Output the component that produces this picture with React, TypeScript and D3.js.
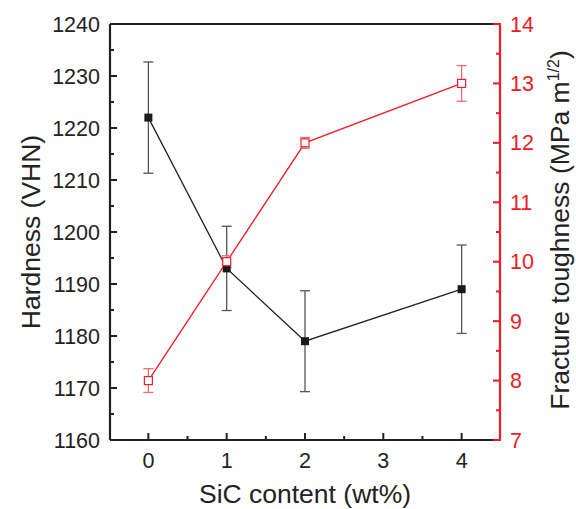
import React from "react";
import * as d3 from "d3";

const xCats = [0, 1, 2, 4];
const hardness = [1222, 1193, 1179, 1189];
const hardnessErr = [10.7, 8.1, 9.7, 8.5];
const toughness = [8.0, 10.0, 12.0, 13.0];
const toughnessErr = [0.2, 0.1, 0.09, 0.3];
const xTicks = [0, 1, 2, 3, 4];
const yLeftTicks = [1160, 1170, 1180, 1190, 1200, 1210, 1220, 1230, 1240];
const yRightTicks = [7, 8, 9, 10, 11, 12, 13, 14];

const W = 576, H = 509;
const L = 110, R = 500, T = 24, B = 440;
const FONT = "'Liberation Sans', Arial, sans-serif";
const RED = "#ee1c25";

export default function App() {
  const x = d3.scaleLinear().domain([-0.49, 4.49]).range([L, R]);
  const yL = d3.scaleLinear().domain([1160, 1240]).range([B, T]);
  const yR = d3.scaleLinear().domain([7, 14]).range([B, T]);
  const lineL = d3.line<number>().x((_, i) => x(xCats[i])).y(d => yL(d));
  const lineR = d3.line<number>().x((_, i) => x(xCats[i])).y(d => yR(d));
  const ms = 8;
  const capW = 5;
  const xMinor = d3.range(-0.5, 4.51, 0.5).filter(v => v > -0.49 && v < 4.49 && !Number.isInteger(v));
  const yLMinor = d3.range(1165, 1240, 10);
  const yRMinor = d3.range(7.5, 14, 1);
  const tickFs = 21.5;
  const titleFs = 26.5;

  return (
    <svg width={W} height={H} style={{ position: "absolute", left: 0, top: 0, background: "#fff" }} fontFamily={FONT}>
      {/* lines */}
      <path d={lineL(hardness) || ""} fill="none" stroke="#222" strokeWidth={1.3} />
      <path d={lineR(toughness) || ""} fill="none" stroke={RED} strokeWidth={1.3} />
      {/* hardness error bars */}
      {hardness.map((v, i) => {
        const cx = x(xCats[i]);
        const y1 = yL(v + hardnessErr[i]), y2 = yL(v - hardnessErr[i]);
        return (
          <g key={"he" + i} stroke="#555" strokeWidth={1.3}>
            <line x1={cx} x2={cx} y1={y1} y2={y2} />
            <line x1={cx - capW} x2={cx + capW} y1={y1} y2={y1} />
            <line x1={cx - capW} x2={cx + capW} y1={y2} y2={y2} />
          </g>
        );
      })}
      {/* toughness error bars */}
      {toughness.map((v, i) => {
        const cx = x(xCats[i]);
        const y1 = yR(v + toughnessErr[i]), y2 = yR(v - toughnessErr[i]);
        return (
          <g key={"te" + i} stroke="#f36b70" strokeWidth={1.3}>
            <line x1={cx} x2={cx} y1={y1} y2={y2} />
            <line x1={cx - capW} x2={cx + capW} y1={y1} y2={y1} />
            <line x1={cx - capW} x2={cx + capW} y1={y2} y2={y2} />
          </g>
        );
      })}
      {/* markers */}
      {hardness.map((v, i) => (
        <rect key={"hm" + i} x={x(xCats[i]) - ms / 2} y={yL(v) - ms / 2} width={ms} height={ms} fill="#1a1a1a" />
      ))}
      {toughness.map((v, i) => (
        <rect key={"tm" + i} x={x(xCats[i]) - ms / 2} y={yR(v) - ms / 2} width={ms} height={ms} fill="#fff" stroke={RED} strokeWidth={1.2} />
      ))}
      {/* frame */}
      <line x1={L} x2={R} y1={T} y2={T} stroke="#222" strokeWidth={2} />
      <line x1={L} x2={R} y1={B} y2={B} stroke="#222" strokeWidth={2.2} />
      <line x1={L} x2={L} y1={T} y2={B} stroke="#222" strokeWidth={2.2} />
      <line x1={R} x2={R} y1={T - 1} y2={B + 1} stroke={RED} strokeWidth={2.2} />
      {/* x ticks */}
      {xTicks.map(t => (
        <g key={"xt" + t}>
          <line x1={x(t)} x2={x(t)} y1={B} y2={B - 7} stroke="#222" strokeWidth={2} />
          <text x={x(t)} y={B + 28} fontSize={tickFs} textAnchor="middle" fill="#222">{t}</text>
        </g>
      ))}
      {xMinor.map(t => (
        <line key={"xm" + t} x1={x(t)} x2={x(t)} y1={B} y2={B - 4} stroke="#222" strokeWidth={2} />
      ))}
      {/* left ticks */}
      {yLeftTicks.map(t => (
        <g key={"yl" + t}>
          <line x1={L} x2={L + 7} y1={yL(t)} y2={yL(t)} stroke="#222" strokeWidth={2} />
          <text x={L - 10} y={yL(t) + 7.5} fontSize={tickFs} textAnchor="end" fill="#222">{t}</text>
        </g>
      ))}
      {yLMinor.map(t => (
        <line key={"ylm" + t} x1={L} x2={L + 4} y1={yL(t)} y2={yL(t)} stroke="#222" strokeWidth={2} />
      ))}
      {/* right ticks */}
      {yRightTicks.map(t => (
        <g key={"yr" + t}>
          <line x1={R} x2={R - 7} y1={yR(t)} y2={yR(t)} stroke={RED} strokeWidth={2} />
          <text x={R + 10} y={yR(t) + 7.5} fontSize={tickFs} textAnchor="start" fill={RED}>{t}</text>
        </g>
      ))}
      {yRMinor.map(t => (
        <line key={"yrm" + t} x1={R} x2={R - 4} y1={yR(t)} y2={yR(t)} stroke={RED} strokeWidth={2} />
      ))}
      {/* titles */}
      <text x={(L + R) / 2} y={503} fontSize={titleFs} textAnchor="middle" fill="#222">SiC content (wt%)</text>
      <text transform={`translate(40, ${(T + B) / 2}) rotate(-90)`} fontSize={titleFs} textAnchor="middle" fill="#222">Hardness (VHN)</text>
      <text transform={`translate(569, ${(T + B) / 2 - 2}) rotate(-90)`} fontSize={titleFs} textAnchor="middle" fill="#222">
        Fracture toughness (MPa m<tspan dy={-10} fontSize={16}>1/2</tspan><tspan dy={10}>)</tspan>
      </text>
    </svg>
  );
}
